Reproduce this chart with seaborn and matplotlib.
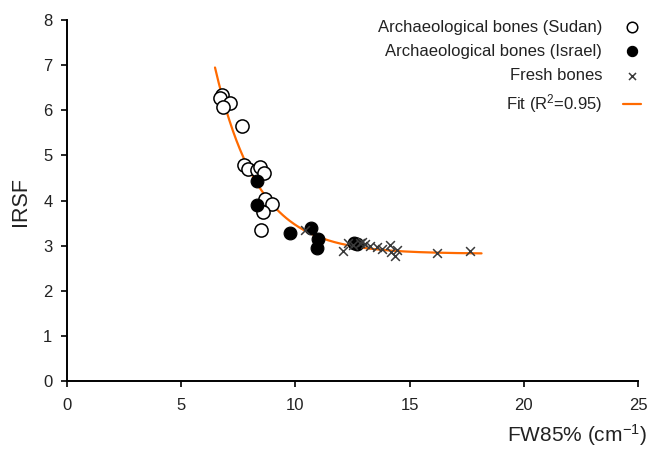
import numpy as np
import pandas as pd
import matplotlib
matplotlib.use("Agg")
import matplotlib.pyplot as plt
import seaborn as sns

# Archaeological bones from Sudan (open circles)
sudan_x = [6.77, 6.70, 7.14, 6.82, 7.65, 7.76, 7.94, 8.30, 8.45, 8.64, 8.67, 8.96, 8.60, 8.49]
sudan_y = [6.34, 6.27, 6.17, 6.08, 5.65, 4.79, 4.69, 4.68, 4.74, 4.60, 4.03, 3.92, 3.75, 3.35]

# Archaeological bones from Israel (filled circles)
israel_x = [8.30, 8.33, 9.75, 10.70, 11.00, 10.93, 12.55, 12.68]
israel_y = [4.44, 3.90, 3.29, 3.39, 3.15, 2.94, 3.05, 3.04]

# Fresh bones (crosses)
fresh_x = [10.42, 12.10, 12.32, 12.50, 12.83, 12.90, 13.05, 13.27, 13.56, 13.78,
           14.14, 14.20, 14.43, 14.36, 16.19, 17.64]
fresh_y = [3.34, 2.87, 3.06, 3.02, 3.06, 3.09, 3.03, 2.99, 2.96, 2.92,
           3.01, 2.85, 2.90, 2.77, 2.84, 2.87]

# Exponential decay fit: y = a + b * exp(-c * x)
fit_a, fit_b, fit_c = 2.82, 128.0, 0.53
fit_range = (6.48, 18.15)
fit_label = r"Fit (R$^2$=0.95)"

x_ticks = [0, 5, 10, 15, 20, 25]
y_ticks = [0, 1, 2, 3, 4, 5, 6, 7, 8]

sns.set_theme(style="white")
plt.rcParams["font.family"] = ["Liberation Sans", "DejaVu Sans"]
plt.rcParams["mathtext.fontset"] = "custom"
plt.rcParams["mathtext.rm"] = "Liberation Sans"
plt.rcParams["mathtext.default"] = "regular"

text_color = "#222222"

fig = plt.figure(figsize=(6.52, 4.50), dpi=100)
ax = fig.add_axes([67 / 652, 69 / 450, 571 / 652, 361 / 450])

sudan = pd.DataFrame({"x": sudan_x, "y": sudan_y})
israel = pd.DataFrame({"x": israel_x, "y": israel_y})
fresh = pd.DataFrame({"x": fresh_x, "y": fresh_y})

sns.scatterplot(data=sudan, x="x", y="y", ax=ax, marker="o", s=90,
                facecolor="white", edgecolor="black", linewidth=1.1,
                label="Archaeological bones (Sudan)", zorder=3)
sns.scatterplot(data=israel, x="x", y="y", ax=ax, marker="o", s=85,
                color="black", edgecolor="black", linewidth=0.8,
                label="Archaeological bones (Israel)", zorder=4)
sns.scatterplot(data=fresh, x="x", y="y", ax=ax, marker="x", s=40,
                color="#3a3a3a", linewidth=1.1,
                label="Fresh bones", zorder=5)

fx = np.linspace(fit_range[0], fit_range[1], 300)
fit = pd.DataFrame({"x": fx, "y": fit_a + fit_b * np.exp(-fit_c * fx)})
sns.lineplot(data=fit, x="x", y="y", ax=ax, color="#ff6a00", linewidth=1.6,
             label=fit_label, zorder=2)

ax.set_xlim(0, 25)
ax.set_ylim(0, 8)
ax.set_xticks(x_ticks)
ax.set_yticks(y_ticks)
ax.tick_params(axis="both", which="major", direction="out", length=4.5, width=1.2,
               color="black", labelsize=12, labelcolor=text_color,
               bottom=True, left=True)
ax.tick_params(axis="x", pad=8)
ax.tick_params(axis="y", pad=6)

for side in ("top", "right"):
    ax.spines[side].set_visible(False)
for side in ("left", "bottom"):
    ax.spines[side].set_color("black")
    ax.spines[side].set_linewidth(1.4)

ax.set_xlabel("")
ax.set_ylabel("")
fig.text(647 / 652, 1 - 435 / 450, r"FW85% (cm$^{-1}$)", fontsize=15,
         ha="right", va="center", color=text_color)
fig.text(20 / 652, 1 - 201 / 450, "IRSF", fontsize=15.5, rotation=90,
         ha="center", va="center", color=text_color)

handles, labels = ax.get_legend_handles_labels()
leg = ax.legend(handles, labels, loc="upper right",
                bbox_to_anchor=(648 / 652, 1 - 13 / 450),
                bbox_transform=fig.transFigure,
                markerfirst=False, frameon=False, fontsize=12,
                markerscale=0.8, handlelength=1.1, handletextpad=1.25,
                labelspacing=0.55, borderaxespad=0.0)
for t in leg.get_texts():
    t.set_ha("right")
    t.set_color(text_color)
leg._legend_box.align = "right"

fig.savefig("out.png", dpi=100)
